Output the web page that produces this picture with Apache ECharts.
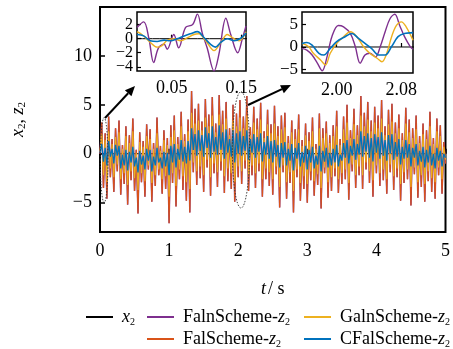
<!DOCTYPE html>
<html>
<head>
<meta charset="utf-8">
<script src="https://cdn.jsdelivr.net/npm/echarts@6/dist/echarts.min.js"></script>
<style>
html, body { margin: 0; padding: 0; background: #fff; }
#chart-container { width: 453px; height: 349px; }
</style>
</head>
<body>
<div id="chart-container"></div>
<script>
// main plot: samples every dt seconds, t = 0 .. 5
var dt = 0.025;
var falValues = [
  0, 3.2, -3.5, 2.1, -4.6, 3.8, -2.4, 1.5, -3.9, 2.6,
  -1.8, 3.4, -4.2, 0.9, -3.1, 2.8, -5.2, 1.9, -2.7, 3.6,
  -3.8, 0.4, -6.1, 2.2, -2.9, 1.3, -4.4, 3.0, -1.6, 2.5,
  -4.9, 1.1, -3.3, 3.7, -2.2, 0.8, -4.1, 2.4, -3.6, 1.6,
  -7.1, 2.9, -3.0, 3.9, -5.4, 1.7, -2.6, 4.3, -3.7, 2.0,
  -4.8, 3.5, -6.0, 6.4, -1.9, 4.6, -3.2, 5.1, -2.5, 3.3,
  -3.9, 5.6, -1.4, 4.0, -4.3, 5.8, -2.0, 3.1, -3.4, 6.0,
  -1.7, 4.4, -4.0, 5.3, -2.8, 2.6, -3.6, 5.0, -4.9, 4.1,
  -2.4, 5.5, -3.1, 3.8, -1.5, 5.9, -3.8, 2.7, -2.2, 4.8,
  -3.5, 3.6, -1.8, 5.2, -4.4, 2.3, -2.6, 4.5, -3.3, 3.0,
  -4.2, 4.9, -2.1, 2.8, -5.5, 3.9, -1.9, 4.2, -4.6, 1.8,
  -3.0, 3.4, -6.0, 2.5, -2.4, 4.0, -4.8, 1.4, -3.6, 3.1,
  -5.0, 2.2, -2.7, 3.7, -4.3, 1.0, -3.2, 4.1, -5.6, 2.6,
  -2.0, 3.3, -4.5, 1.9, -3.8, 2.9, -2.3, 4.4, -4.0, 1.5,
  -3.1, 3.8, -2.6, 5.0, -4.7, 2.4, -1.8, 4.6, -3.5, 2.9,
  -2.2, 5.9, -3.6, 4.2, -1.6, 5.3, -3.0, 3.4, -4.4, 4.8,
  -2.0, 3.9, -3.3, 5.5, -2.7, 2.8, -4.1, 4.5, -1.9, 5.1,
  -3.7, 3.2, -2.4, 4.0, -4.8, 2.1, -3.0, 4.7, -2.6, 3.5,
  -5.3, 2.6, -2.1, 3.9, -4.5, 1.8, -3.4, 3.1, -4.9, 2.4,
  -2.8, 4.3, -3.9, 1.6, -4.6, 3.6, -2.2, 2.9, -4.1, 1.2, -1.0
];
var galnValues = [
  0.2, 2.0, -2.2, 1.4, -2.9, 2.3, -1.5, 1.0, -2.4, 1.7,
  -1.1, 2.2, -2.6, 0.5, -2.0, 1.8, -3.2, 1.1, -1.8, 2.3,
  -2.5, 0.1, -3.7, 1.2, -2.0, 0.7, -2.8, 1.8, -1.2, 1.5,
  -3.0, 0.5, -2.2, 2.1, -1.6, 0.3, -2.6, 1.4, -2.3, 0.9,
  -4.4, 1.7, -2.0, 2.4, -3.3, 1.0, -1.6, 2.8, -2.3, 1.3,
  -2.9, 2.3, -3.6, 4.2, -0.9, 3.1, -1.8, 3.4, -1.3, 2.4,
  -2.2, 3.7, -0.6, 2.8, -2.4, 3.9, -1.0, 2.2, -1.9, 4.0,
  -0.8, 3.0, -2.3, 3.6, -1.5, 1.9, -2.0, 3.4, -2.9, 2.8,
  -1.3, 3.7, -1.8, 2.6, -0.7, 3.9, -2.2, 1.9, -1.2, 3.2,
  -2.0, 2.5, -1.0, 3.5, -2.6, 1.6, -1.5, 3.0, -1.9, 2.1,
  -2.6, 3.1, -1.3, 1.8, -3.4, 2.5, -1.2, 2.7, -2.9, 1.1,
  -1.9, 2.2, -3.8, 1.5, -1.6, 2.5, -3.0, 0.8, -2.3, 1.9,
  -3.1, 1.3, -1.8, 2.3, -2.8, 0.5, -2.1, 2.6, -3.5, 1.6,
  -1.4, 2.1, -2.9, 1.1, -2.4, 1.8, -1.5, 2.8, -2.6, 0.9,
  -2.0, 2.5, -1.6, 3.2, -3.0, 1.6, -1.1, 3.0, -2.2, 1.9,
  -1.3, 3.9, -2.2, 2.8, -0.9, 3.5, -1.8, 2.3, -2.7, 3.2,
  -1.2, 2.6, -2.0, 3.6, -1.6, 1.9, -2.6, 3.0, -1.1, 3.3,
  -2.3, 2.1, -1.5, 2.6, -3.1, 1.4, -1.9, 3.1, -1.6, 2.2,
  -3.4, 1.6, -1.4, 2.5, -2.9, 1.1, -2.2, 2.0, -3.1, 1.5,
  -1.8, 2.8, -2.5, 1.0, -2.9, 2.3, -1.4, 1.8, -2.6, 0.7, -0.6
];
var cfalValues = [
  0.1, 1.0, -0.8, 0.6, -1.2, 1.3, -0.3, 0.5, -1.0, 0.9,
  -0.2, 0.8, -1.5, -0.1, -1.2, 0.4, -1.7, 0.2, -0.9, 0.7,
  -1.3, -0.4, -1.9, 0.3, -1.1, -0.2, -1.6, 0.5, -0.7, 0.4,
  -1.8, -0.3, -1.2, 0.6, -0.9, -0.4, -1.5, 0.2, -1.3, 0.1,
  -2.2, 0.8, -0.9, 1.0, -1.4, 0.5, -0.6, 1.4, -0.8, 0.7,
  -1.0, 1.3, -0.7, 2.6, 0.4, 2.0, -0.2, 2.4, 0.3, 1.9,
  -0.3, 2.7, 0.6, 2.1, -0.4, 2.8, 0.2, 1.7, -0.1, 2.9,
  0.4, 2.2, -0.5, 2.5, 0.1, 1.5, -0.3, 2.4, -0.9, 2.1,
  0.0, 2.3, -0.2, 1.8, 0.3, 2.4, -0.6, 1.5, 0.1, 2.0,
  -0.4, 1.7, 0.2, 2.1, -0.8, 1.2, -0.1, 1.8, -0.5, 1.3,
  -0.9, 1.4, -0.3, 0.9, -1.4, 1.1, -0.4, 1.2, -1.2, 0.5,
  -0.7, 1.0, -1.7, 0.6, -0.5, 1.1, -1.3, 0.2, -0.9, 0.8,
  -1.6, 0.4, -0.9, 0.7, -1.5, -0.2, -1.1, 0.8, -1.8, 0.3,
  -0.8, 0.6, -1.4, 0.1, -1.2, 0.5, -0.9, 0.9, -1.3, -0.1,
  -0.7, 1.1, -0.4, 1.4, -1.0, 0.8, -0.2, 1.5, -0.6, 1.0,
  -0.1, 2.3, -0.3, 1.8, 0.2, 2.1, -0.4, 1.6, -0.8, 2.0,
  0.1, 1.7, -0.5, 2.2, -0.2, 1.4, -0.7, 1.9, 0.0, 2.0,
  -0.6, 1.2, -0.3, 1.5, -1.1, 0.7, -0.5, 1.4, -0.4, 1.0,
  -1.3, 0.6, -0.4, 1.0, -1.2, 0.3, -0.8, 0.7, -1.4, 0.4,
  -0.9, 0.8, -1.2, 0.0, -1.5, 0.6, -0.7, 0.3, -1.3, 0.0, -0.4
];
// x2 (reference state) stays on zero
var x2Times = [0, 5];
var x2Values = [0, 0];

// inset 1: t = 0 .. 0.157
var in1FalnT = [0, 0.0097, 0.017, 0.024, 0.031, 0.039, 0.0435, 0.053, 0.06, 0.07, 0.08, 0.087, 0.094, 0.101, 0.111, 0.118, 0.128, 0.135, 0.145, 0.152, 0.157];
var in1FalnV = [1.6, 2.4, 0.1, -3.4, -1.3, -0.8, -1.5, 0.6, -1.3, 1.6, 2.0, 3.5, 0.8, -1.3, -4.6, -2.2, 2.9, 0.6, -2.0, 0.1, 1.8];
var in1GalnT = [0, 0.007, 0.019, 0.029, 0.036, 0.0435, 0.053, 0.063, 0.072, 0.082, 0.089, 0.099, 0.111, 0.121, 0.130, 0.138, 0.147, 0.157];
var in1GalnV = [1.0, 0.6, -0.5, -1.2, -1.0, -0.2, 0.0, -0.3, 0.1, 0.6, 0.7, -0.3, -1.7, -0.5, 0.6, 0.1, -0.3, 1.0];
var in1CfalT = [0, 0.0097, 0.019, 0.029, 0.039, 0.048, 0.058, 0.068, 0.077, 0.087, 0.097, 0.106, 0.113, 0.121, 0.130, 0.140, 0.150, 0.157];
var in1CfalV = [0.6, 0.4, -0.3, -0.4, -0.2, -0.3, 0.0, 0.4, 0.7, 1.0, 0.1, -0.8, -1.2, -0.5, 0.0, -0.3, 0.1, 0.8];

// inset 2: t = 1.957 .. 2.0945
var in2FalnT = [1.957, 1.963, 1.9695, 1.976, 1.982, 1.988, 1.994, 2.002, 2.0085, 2.017, 2.023, 2.029, 2.035, 2.041, 2.048, 2.054, 2.060, 2.066, 2.072, 2.078, 2.084, 2.091, 2.0945];
var in2FalnV = [-0.3, -0.7, -1.8, -3.6, -5.3, -2.2, 2.3, 4.8, 4.5, 3.0, 0.1, -3.6, -1.8, -1.4, -2.2, 0.1, 3.4, 6.3, 7.3, 4.8, 2.3, 0.1, -0.5];
var in2GalnT = [1.957, 1.965, 1.971, 1.980, 1.986, 1.992, 2.000, 2.0085, 2.017, 2.025, 2.033, 2.041, 2.050, 2.056, 2.062, 2.068, 2.074, 2.080, 2.086, 2.0945];
var in2GalnV = [0.8, 0.1, -1.4, -2.9, -4.0, -1.4, 0.8, 2.3, 3.4, 2.3, 0.1, -1.4, -2.5, -3.3, -1.4, 2.3, 4.8, 5.6, 4.5, 1.5];
var in2CfalT = [1.957, 1.963, 1.9695, 1.978, 1.984, 1.992, 2.000, 2.0085, 2.019, 2.027, 2.035, 2.043, 2.052, 2.060, 2.068, 2.076, 2.084, 2.0945];
var in2CfalV = [0.8, 1.0, 0.4, -1.4, -1.8, -0.3, 1.2, 2.1, 3.0, 1.9, 0.8, -0.3, -1.8, -1.8, 0.1, 2.3, 3.0, 3.2];

var mainTicksY = [-5, 0, 5, 10];
var in1TicksX = [0.05, 0.15];
var in1TicksY = [-4, -2, 0, 2];
var in2TicksX = [2.00, 2.08];
var in2TicksY = [-5, 0, 5];

var seriesNames = ['x2', 'FalnScheme-z2', 'GalnScheme-z2', 'FalScheme-z2', 'CFalScheme-z2'];
var colors = { x2: '#000000', faln: '#7E2F8E', galn: '#EDB120', fal: '#D95319', cfal: '#0072BD' };

var FONT = '"Liberation Serif", "DejaVu Serif", serif';

function pairs(ts, vs) {
  return ts.map(function (t, i) { return [t, vs[i]]; });
}
function sampled(vs) {
  return vs.map(function (v, i) { return [+(i * dt).toFixed(3), v]; });
}
function minus(v) {
  return String(v).replace('-', '\u2212');
}

var dom = document.getElementById('chart-container');
var myChart = echarts.init(dom, null, { renderer: 'canvas' });

var subRich = {
  i: { fontFamily: FONT, fontStyle: 'italic', fontSize: 18, color: '#000', lineHeight: 20 },
  r: { fontFamily: FONT, fontSize: 18, color: '#000', lineHeight: 20 },
  s: { fontFamily: FONT, fontSize: 10, color: '#000', lineHeight: 20, verticalAlign: 'bottom', padding: [9, 0, 0, 0] }
};

function legendText(name) {
  if (name === 'x2') return '{i|x}{s|2}';
  return '{r|' + name.replace('-z2', '-') + '}{i|z}{s|2}';
}

function oneLegend(name, left, top) {
  return {
    data: [name],
    left: left,
    top: top,
    padding: 0,
    icon: 'rect',
    itemWidth: 27,
    itemHeight: 2,
    selectedMode: false,
    formatter: legendText,
    textStyle: { fontFamily: FONT, fontSize: 18, color: '#000', padding: [0, 0, 0, 4], rich: subRich }
  };
}

function lineSeries(name, data, color, xi, width, z) {
  return {
    name: name,
    type: 'line',
    xAxisIndex: xi,
    yAxisIndex: xi,
    data: data,
    showSymbol: false,
    symbol: 'none',
    animation: false,
    smooth: xi > 0 ? 0.35 : false,
    lineStyle: { color: color, width: width },
    itemStyle: { color: color },
    z: z
  };
}

var tickLabel = { fontFamily: FONT, fontSize: 18, color: '#000' };

function insetX(min, max, ticks) {
  return {
    type: 'value', min: min, max: max, z: 11,
    axisLine: { show: false },
    splitLine: { show: false },
    axisTick: { inside: true, length: 4, customValues: ticks, lineStyle: { color: '#000', width: 1.2 } },
    axisLabel: Object.assign({ margin: 8, customValues: ticks, formatter: function (v) { return v.toFixed(2); } }, tickLabel)
  };
}
function insetY(min, max, ticks, labels, size) {
  return {
    type: 'value', min: min, max: max, z: 11, position: 'left', offset: 0,
    axisLine: { show: false },
    splitLine: { show: false },
    axisTick: { show: ticks.length > 0, inside: true, length: 4, customValues: ticks, lineStyle: { color: '#000', width: 1.2 } },
    axisLabel: { margin: 4, customValues: labels, formatter: minus, fontFamily: FONT, fontSize: size, color: '#000' }
  };
}

var insetGrid = { show: true, backgroundColor: '#fff', borderColor: '#000', borderWidth: 1.5, z: 10 };

var option = {
  backgroundColor: '#fff',
  animation: false,
  grid: [
    { left: 100, right: 6, top: 7, bottom: 117, show: true, borderColor: '#000', borderWidth: 2 },
    Object.assign({ left: 137, top: 12, width: 109, height: 59 }, insetGrid),
    Object.assign({ left: 302, top: 12, width: 111, height: 61 }, insetGrid)
  ],
  xAxis: [
    {
      gridIndex: 0, type: 'value', min: 0, max: 5, interval: 1,
      axisLine: { show: false },
      splitLine: { show: false },
      axisTick: { inside: true, length: 5, lineStyle: { color: '#000', width: 1.5 } },
      axisLabel: Object.assign({ margin: 10 }, tickLabel),
      name: '{i|t}{r|/ s}',
      nameLocation: 'middle',
      nameGap: 48,
      nameTextStyle: {
        rich: {
          i: { fontFamily: FONT, fontStyle: 'italic', fontSize: 18, color: '#000', padding: [0, 2, 0, 0] },
          r: { fontFamily: FONT, fontSize: 18, color: '#000' }
        }
      }
    },
    Object.assign({ gridIndex: 1 }, insetX(0, 0.157, in1TicksX)),
    Object.assign({ gridIndex: 2 }, insetX(1.957, 2.0945, in2TicksX))
  ],
  yAxis: [
    {
      gridIndex: 0, type: 'value', min: -8, max: 15,
      axisLine: { show: false },
      splitLine: { show: false },
      axisTick: { inside: true, length: 5, customValues: mainTicksY, lineStyle: { color: '#000', width: 1.5 } },
      axisLabel: Object.assign({ margin: 8, customValues: mainTicksY, formatter: minus }, tickLabel),
      name: '{i|x}{s|2}{r|, }{i|z}{s|2}',
      nameLocation: 'middle',
      nameRotate: 90,
      nameGap: 72,
      nameTextStyle: {
        rich: {
          i: { fontFamily: FONT, fontStyle: 'italic', fontSize: 18, color: '#000', lineHeight: 20 },
          r: { fontFamily: FONT, fontSize: 18, color: '#000', lineHeight: 20 },
          s: { fontFamily: FONT, fontSize: 11, color: '#000', lineHeight: 20, verticalAlign: 'bottom', padding: [9, 0, 0, 0] }
        }
      }
    },
    // inset 1 labels are split over two left axes so that the tight labels all stay visible
    Object.assign({ gridIndex: 1 }, insetY(-4.6, 3.8, in1TicksY, [in1TicksY[1], in1TicksY[3]], 16)),
    Object.assign({ gridIndex: 2 }, insetY(-5.8, 7.8, in2TicksY, in2TicksY, 17)),
    Object.assign({ gridIndex: 1 }, insetY(-4.6, 3.8, [], [in1TicksY[0], in1TicksY[2]], 16))
  ],
  legend: [
    oneLegend('x2', 86, 308),
    oneLegend('FalnScheme-z2', 147, 308),
    oneLegend('GalnScheme-z2', 304, 308),
    oneLegend('FalScheme-z2', 147, 330),
    oneLegend('CFalScheme-z2', 304, 330)
  ],
  series: [
    // main plot
    lineSeries(seriesNames[0], pairs(x2Times, x2Values), colors.x2, 0, 1, 2),
    lineSeries(seriesNames[1], sampled(falValues), colors.faln, 0, 1.5, 2),
    lineSeries(seriesNames[3], sampled(falValues), colors.fal, 0, 1.2, 3),
    lineSeries(seriesNames[2], sampled(galnValues), colors.galn, 0, 1.1, 4),
    lineSeries(seriesNames[4], sampled(cfalValues), colors.cfal, 0, 1.3, 5),
    // inset 1
    lineSeries(seriesNames[0], pairs(x2Times, x2Values), colors.x2, 1, 1, 12),
    lineSeries(seriesNames[1], pairs(in1FalnT, in1FalnV), colors.faln, 1, 1.4, 12),
    lineSeries(seriesNames[2], pairs(in1GalnT, in1GalnV), colors.galn, 1, 1.4, 13),
    lineSeries(seriesNames[4], pairs(in1CfalT, in1CfalV), colors.cfal, 1, 1.6, 14),
    // inset 2
    lineSeries(seriesNames[0], pairs(x2Times, x2Values), colors.x2, 2, 1, 12),
    lineSeries(seriesNames[1], pairs(in2FalnT, in2FalnV), colors.faln, 2, 1.4, 12),
    lineSeries(seriesNames[2], pairs(in2GalnT, in2GalnV), colors.galn, 2, 1.4, 13),
    lineSeries(seriesNames[4], pairs(in2CfalT, in2CfalV), colors.cfal, 2, 1.6, 14)
  ]
};
myChart.setOption(option);

// dotted ellipses around the zoomed windows, and arrows to the insets
function ellipseAt(t, v, halfT, halfV) {
  var c = myChart.convertToPixel({ gridIndex: 0 }, [t, v]);
  var e = myChart.convertToPixel({ gridIndex: 0 }, [t + halfT, v + halfV]);
  return {
    type: 'ellipse', z: 20, silent: true,
    shape: { cx: c[0], cy: c[1], rx: Math.abs(e[0] - c[0]), ry: Math.abs(e[1] - c[1]) },
    style: { fill: 'none', stroke: '#333', lineWidth: 0.9, lineDash: [1.5, 1.5] }
  };
}
function arrow(x1, y1, x2, y2) {
  var a = Math.atan2(y2 - y1, x2 - x1), len = 10, w = 4.5;
  var bx = x2 - len * Math.cos(a), by = y2 - len * Math.sin(a);
  return [
    { type: 'line', z: 20, silent: true, shape: { x1: x1, y1: y1, x2: bx, y2: by }, style: { stroke: '#000', lineWidth: 2 } },
    { type: 'polygon', z: 20, silent: true,
      shape: { points: [[x2, y2], [bx - w * Math.sin(a), by + w * Math.cos(a)], [bx + w * Math.sin(a), by - w * Math.cos(a)]] },
      style: { fill: '#000' } }
  ];
}
myChart.setOption({
  graphic: [ellipseAt(0.06, -0.65, 0.055, 4.35), ellipseAt(2.04, 0.4, 0.125, 5.95)]
    .concat(arrow(105, 118, 135, 86))
    .concat(arrow(248, 105, 291, 85))
});
window.addEventListener('resize', myChart.resize);
</script>
</body>
</html>
